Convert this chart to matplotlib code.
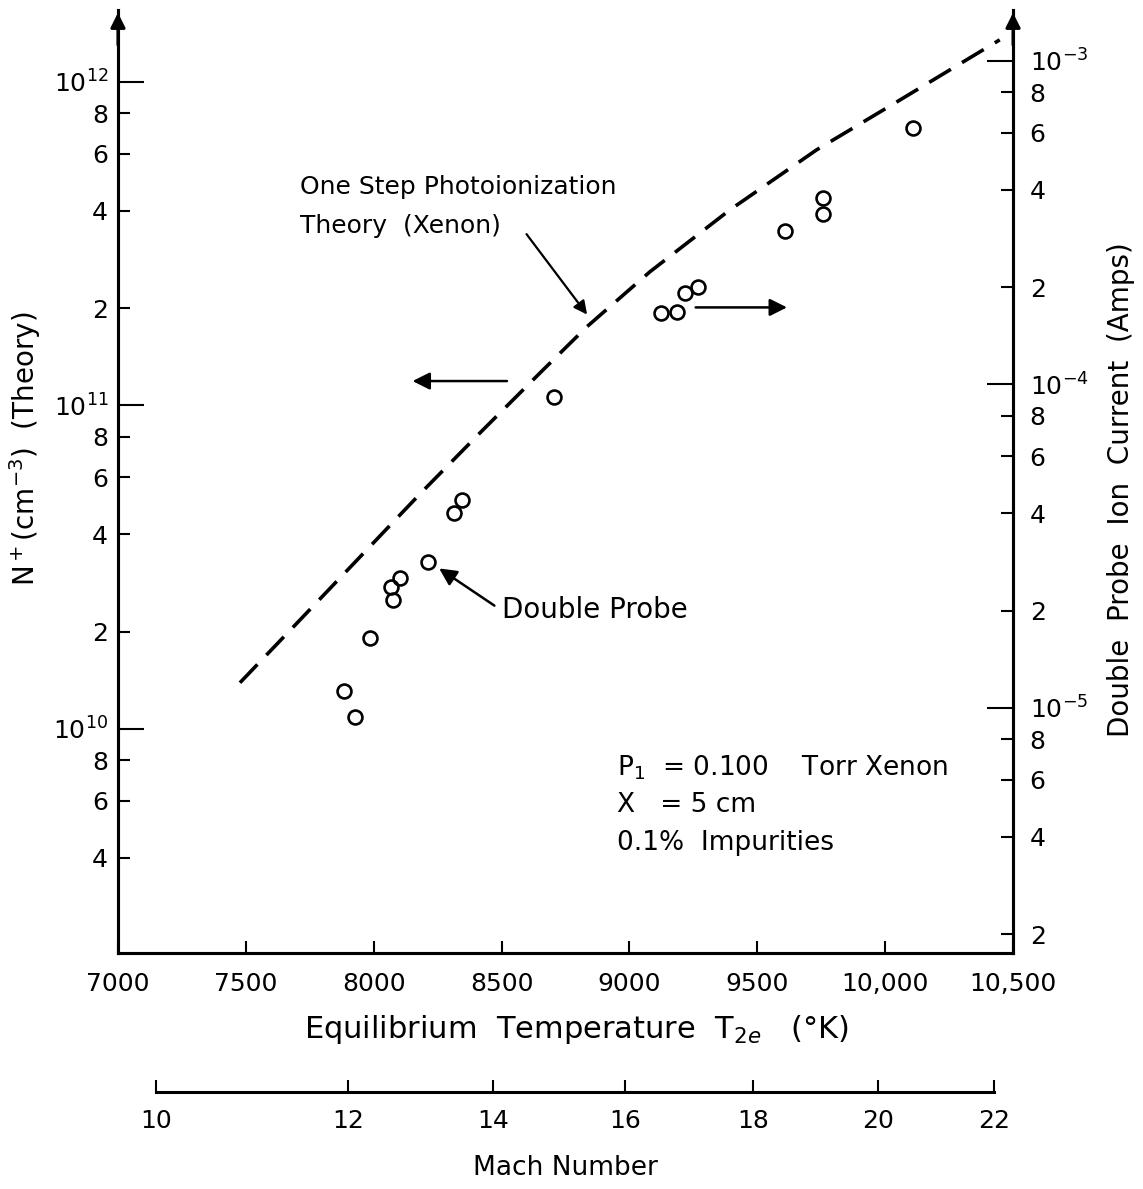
import math
import matplotlib
matplotlib.use('Agg')
import matplotlib.pyplot as plt

# One step photoionization theory (left axis, N+ in cm^-3)
theory_T = [7477, 7711, 7946, 8181, 8415, 8650, 8833, 9080, 9392, 9732, 10057, 10448]
theory_N = [1.39e10, 2.17e10, 3.40e10, 5.33e10, 8.22e10, 1.26e11, 1.75e11,
            2.59e11, 4.02e11, 6.17e11, 8.79e11, 1.35e12]

# Double probe ion current (right axis, amps)
probe_T = [7883, 7926, 7985, 8075, 8067, 8102, 8212, 8313, 8345, 8704,
           9123, 9185, 9216, 9267, 9607, 9756, 9756, 10108]
probe_I = [1.13e-5, 9.4e-6, 1.64e-5, 2.16e-5, 2.37e-5, 2.52e-5, 2.82e-5, 4.01e-5, 4.40e-5,
           9.14e-5, 1.66e-4, 1.67e-4, 1.92e-4, 2.00e-4, 2.98e-4, 3.37e-4, 3.77e-4, 6.21e-4]

temp_ticks = [7000, 7500, 8000, 8500, 9000, 9500, 10000, 10500]
temp_labels = ['7000', '7500', '8000', '8500', '9000', '9500', '10,000', '10,500']

# Mach number scale and the temperature each Mach number falls at
mach_numbers = [10, 12, 14, 16, 18, 20, 22]
mach_T = [7149, 7899, 8466, 8982, 9482, 9971, 10425]

N_lim = (10 ** 9.3076, 10 ** 12.2226)
I_per_N = 10 ** -15.065

FS = 18
plt.rcParams['font.family'] = ['DejaVu Sans']
plt.rcParams['mathtext.fontset'] = 'dejavusans'

fig = plt.figure(figsize=(11.43, 11.89), dpi=100)
ax = fig.add_axes([0.1032, 0.1985, 0.7831, 0.7931])

# theory curve
ax.plot(theory_T, theory_N, color='black', lw=2.6, dashes=(7, 3.6))
ax.set_xlim(7000, 10500)
ax.set_yscale('log')
ax.set_ylim(*N_lim)

# right axis with the probe data
axr = ax.twinx()
axr.set_yscale('log')
axr.set_ylim(N_lim[0] * I_per_N, N_lim[1] * I_per_N)
axr.plot(probe_T, probe_I, 'o', mfc='none', mec='black', ms=10, mew=1.9, clip_on=False)

for a in (ax, axr):
    a.spines['top'].set_visible(False)
    for s in ('left', 'right', 'bottom'):
        a.spines[s].set_linewidth(2.2)

# x ticks
ax.set_xticks(temp_ticks)
ax.set_xticklabels(temp_labels)
ax.tick_params(axis='x', direction='in', length=9, width=1.5, labelsize=FS, pad=14)
ax.set_xlabel('Equilibrium  Temperature  T$_{2e}$   (°K)', fontsize=22)
ax.xaxis.set_label_coords(0.512, -0.064)


def log_ticks(a, decades, lo, hi, side):
    majors = [10.0 ** d for d in decades if lo <= 10.0 ** d <= hi]
    minors = []
    for d in range(min(decades) - 1, max(decades) + 1):
        for m in (2, 4, 6, 8):
            v = m * 10.0 ** d
            if lo <= v <= hi:
                minors.append(v)
    a.set_yticks(majors)
    a.set_yticklabels(['$10^{%d}$' % round(math.log10(v)) for v in majors])
    a.set_yticks(minors, minor=True)
    a.set_yticklabels([str(round(v / 10 ** math.floor(math.log10(v)))) for v in minors], minor=True)
    pad = 7 if side == 'left' else 12
    a.tick_params(axis='y', which='major', direction='in', length=19, width=1.5, labelsize=FS, pad=pad)
    a.tick_params(axis='y', which='minor', direction='in', length=8.5, width=1.5, labelsize=FS, pad=pad)


log_ticks(ax, [10, 11, 12], N_lim[0], N_lim[1], 'left')
log_ticks(axr, [-5, -4, -3], N_lim[0] * I_per_N, N_lim[1] * I_per_N, 'right')
axr.tick_params(axis='y', left=False, labelleft=False)

ax.set_ylabel('N$^+$(cm$^{-3}$)  (Theory)', fontsize=20)
ax.yaxis.set_label_coords(-0.084, 0.535)
axr.set_ylabel('Double  Probe  Ion  Current  (Amps)', fontsize=20, rotation=90)
axr.yaxis.set_label_coords(1.105, 0.491)

# arrow heads on top of the vertical axes
for xa in (0, 1):
    ax.annotate('', xy=(xa, 1.0), xytext=(xa, 0.96), xycoords='axes fraction',
                arrowprops=dict(arrowstyle='-|>', color='black', lw=2.2, mutation_scale=22))

# annotations
ax.text(7711, 4.73e11, 'One Step Photoionization', fontsize=18, ha='left', va='center')
ax.text(7711, 3.59e11, 'Theory  (Xenon)', fontsize=18, ha='left', va='center')
ax.annotate('', xy=(8841, 1.88e11), xytext=(8591, 3.44e11),
            arrowprops=dict(arrowstyle='-|>', color='black', lw=1.6, mutation_scale=20))
ax.annotate('', xy=(8141, 1.19e11), xytext=(8532, 1.19e11),
            arrowprops=dict(arrowstyle='-|>', color='black', lw=1.8, mutation_scale=26))
ax.annotate('', xy=(9627, 2.01e11), xytext=(9248, 2.01e11),
            arrowprops=dict(arrowstyle='-|>', color='black', lw=1.8, mutation_scale=26))
ax.text(8501, 2.33e10, 'Double Probe', fontsize=20, ha='left', va='center')
ax.annotate('', xy=(8247, 3.17e10), xytext=(8481, 2.38e10),
            arrowprops=dict(arrowstyle='-|>', color='black', lw=1.8, mutation_scale=26))

ax.text(8950, 7.57e9, 'P$_1$  = 0.100    Torr Xenon', fontsize=19, ha='left', va='center')
ax.text(8950, 5.82e9, 'X   = 5 cm', fontsize=19, ha='left', va='center')
ax.text(8950, 4.44e9, '0.1%  Impurities', fontsize=19, ha='left', va='center')

# Mach number scale below
axm = fig.add_axes([0.1032, 1 - 1092 / 1189, 0.7831, 0.001])
axm.set_xlim(7000, 10500)
axm.set_yticks([])
for s in ('left', 'right', 'top'):
    axm.spines[s].set_visible(False)
axm.spines['bottom'].set_bounds(mach_T[0], mach_T[-1])
axm.spines['bottom'].set_linewidth(2.2)
axm.set_xticks(mach_T)
axm.set_xticklabels([str(m) for m in mach_numbers])
axm.tick_params(axis='x', direction='in', length=9, width=1.5, labelsize=FS, pad=12)
axm.set_xlabel('Mach Number', fontsize=19, labelpad=16)
axm.patch.set_visible(False)

fig.savefig('out.png', dpi=100)
